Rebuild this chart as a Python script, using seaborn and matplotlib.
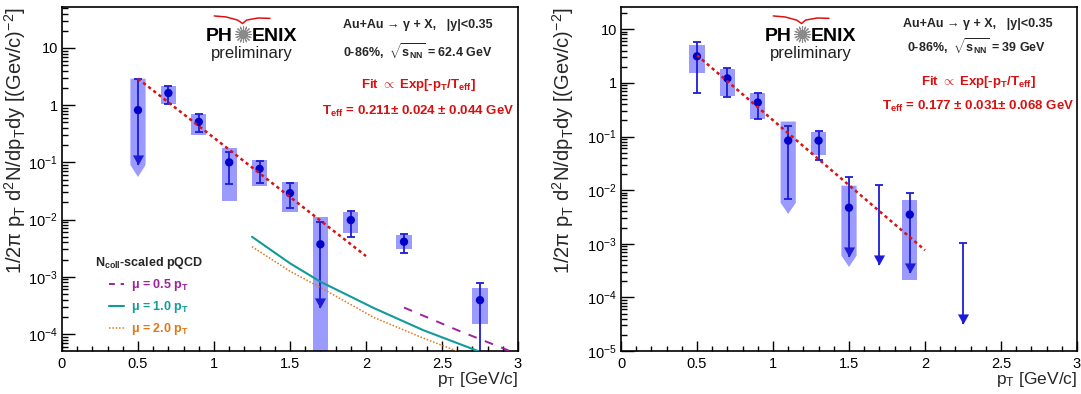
import numpy as np
import matplotlib
matplotlib.use("Agg")
import matplotlib.pyplot as plt
import seaborn as sns
from matplotlib.lines import Line2D
from matplotlib.ticker import FixedLocator, FuncFormatter, MultipleLocator, LogLocator, NullFormatter

nan = np.nan

# ---------------- 62.4 GeV (left) ----------------
pt62 = [0.5, 0.7, 0.9, 1.1, 1.3, 1.5, 1.7, 1.9, 2.25, 2.75]
y62 = [0.82, 1.63, 0.51, 0.10, 0.077, 0.029, 0.0037, 0.0098, 0.0041, 3.9e-4]
stat_hi62 = [2.87, 2.17, 0.70, 0.152, 0.106, 0.044, 0.0091, 0.014, 0.0056, 7.8e-4]
stat_lo62 = [0.09, 1.05, 0.34, 0.042, 0.044, 0.016, 2.8e-4, 0.005, 0.0026, 1e-6]
arrow62 = [True, False, False, False, False, False, True, False, False, False]
sys_hi62 = [2.9, 2.2, 0.70, 0.179, 0.110, 0.045, 0.011, 0.0136, 0.0054, 6.4e-4]
sys_lo62 = [0.090, 1.05, 0.30, 0.021, 0.0386, 0.0136, 1e-6, 0.0058, 0.0030, 1.5e-4]
sys_tip62 = [0.0556, nan, nan, nan, nan, nan, nan, nan, nan, nan]
fit62_x = [0.5, 2.0]
fit62_y = [2.9, 0.0023]
mu05_x = [2.25, 2.6, 2.95]
mu05_y = [2.9e-4, 1.17e-4, 5.0e-5]
mu10_x = [1.25, 1.5, 1.7, 2.05, 2.375, 2.74]
mu10_y = [5.0e-3, 1.72e-3, 8.2e-4, 2.85e-4, 1.17e-4, 5.0e-5]
mu20_x = [1.25, 1.5, 1.7, 2.05, 2.375, 2.6]
mu20_y = [3.36e-3, 1.25e-3, 6.5e-4, 1.95e-4, 8.5e-5, 5.0e-5]

# ---------------- 39 GeV (right) ----------------
pt39 = [0.5, 0.7, 0.9, 1.1, 1.3, 1.5, 1.7, 1.9, 2.25]
y39 = [3.13, 1.21, 0.43, 0.084, 0.084, 0.0047, nan, 0.0035, nan]
stat_hi39 = [5.7, 1.86, 0.66, 0.154, 0.124, 0.0179, 0.0126, 0.0089, 1.05e-3]
stat_lo39 = [0.64, 0.54, 0.21, 0.0069, 0.037, 5.7e-4, 4.1e-4, 2.9e-4, 3.2e-5]
arrow39 = [False, False, False, False, False, True, True, True, True]
sys_hi39 = [5.0, 1.79, 0.66, 0.19, 0.119, 0.0121, nan, 0.0066, nan]
sys_lo39 = [1.5, 0.58, 0.21, 0.0058, 0.046, 6.0e-4, nan, 2.1e-4, nan]
sys_tip39 = [nan, nan, nan, 0.0036, nan, 3.7e-4, nan, nan, nan]
fit39_x = [0.5, 2.0]
fit39_y = [3.27, 7.6e-4]

# ---------------- style ----------------
sns.set_style("white")
plt.rcParams["font.family"] = ["Liberation Sans", "DejaVu Sans"]
plt.rcParams["mathtext.fontset"] = "custom"
plt.rcParams["mathtext.rm"] = "Liberation Sans"
plt.rcParams["mathtext.it"] = "Liberation Sans:italic"
plt.rcParams["mathtext.bf"] = "Liberation Sans:bold"

PT_COL = "#0000c8"
ERR_COL = "#1c1cd8"
BOX_COL = "#9a9aff"
FIT_COL = "#dd1010"
TXT_RED = "#d81010"
C05 = "#a0209f"
C10 = "#109c98"
C20 = "#e07818"
HALF_W = 0.05
CAP = 0.026

tri_marker = [(-0.55, 1.0), (0.55, 1.0), (0.0, 0.0)]

fig = plt.figure(figsize=(10.81, 3.94), dpi=100)
axL = fig.add_axes([62 / 1081, 1 - 351 / 394, 456 / 1081, 344 / 394])
axR = fig.add_axes([621 / 1081, 1 - 351 / 394, 456 / 1081, 344 / 394])


def ytick_fmt(v, pos):
    e = int(round(np.log10(v)))
    if e == 1:
        return "10"
    if e == 0:
        return "1"
    return r"10$^{%d}$" % e


def draw_panel(ax, pt, y, shi, slo, arrow, syshi, syslo, systip, fitx, fity):
    # systematic boxes
    for x, hi, lo, tip in zip(pt, syshi, syslo, systip):
        if np.isnan(hi):
            continue
        if np.isnan(tip):
            ax.bar(x, hi - lo, bottom=lo, width=2 * HALF_W, color=BOX_COL,
                   edgecolor="none", zorder=1)
        else:
            ax.fill([x - HALF_W, x + HALF_W, x + HALF_W, x, x - HALF_W],
                    [hi, hi, lo, tip, lo], color=BOX_COL, lw=0, zorder=1)
    # statistical errors
    for x, hi, lo, arr in zip(pt, shi, slo, arrow):
        ax.vlines(x, lo, hi, color=ERR_COL, lw=1.3, zorder=2)
        ax.hlines(hi, x - CAP, x + CAP, color=ERR_COL, lw=1.3, zorder=2)
        if arr:
            ax.plot([x], [lo], marker=tri_marker, ms=14.5, color=ERR_COL,
                    mec="none", zorder=3)
        else:
            ax.hlines(lo, x - CAP, x + CAP, color=ERR_COL, lw=1.3, zorder=2)
    # points
    sns.scatterplot(x=pt, y=y, ax=ax, color=PT_COL, s=36, edgecolor="none",
                    zorder=4, legend=False)
    # fit
    sns.lineplot(x=fitx, y=fity, ax=ax, color=FIT_COL, lw=1.8,
                 linestyle=(0, (1.3, 1.3)), zorder=5, legend=False)


draw_panel(axL, pt62, y62, stat_hi62, stat_lo62, arrow62, sys_hi62, sys_lo62,
           sys_tip62, fit62_x, fit62_y)
draw_panel(axR, pt39, y39, stat_hi39, stat_lo39, arrow39, sys_hi39, sys_lo39,
           sys_tip39, fit39_x, fit39_y)

# pQCD curves (left)
sns.lineplot(x=mu05_x, y=mu05_y, ax=axL, color=C05, lw=1.4,
             linestyle=(0, (4.5, 4.5)), legend=False, zorder=3)
sns.lineplot(x=mu10_x, y=mu10_y, ax=axL, color=C10, lw=1.5, legend=False, zorder=3)
sns.lineplot(x=mu20_x, y=mu20_y, ax=axL, color=C20, lw=1.1,
             linestyle=(0, (1, 1.2)), legend=False, zorder=3)

handles = [Line2D([], [], color=C05, lw=1.4, linestyle=(0, (3, 3))),
           Line2D([], [], color=C10, lw=1.5),
           Line2D([], [], color=C20, lw=1.1, linestyle=(0, (1, 1.2)))]
labels = [r"μ = 0.5 p$_\mathbf{T}$", r"μ = 1.0 p$_\mathbf{T}$", r"μ = 2.0 p$_\mathbf{T}$"]
leg = axL.legend(handles, labels, title=r"N$_\mathbf{coll}$-scaled pQCD",
                 frameon=False, loc="upper center", bbox_to_anchor=(0.19, 0.28),
                 labelcolor="linecolor", prop={"weight": "bold", "size": 9},
                 handlelength=1.2, handletextpad=0.6, labelspacing=0.5,
                 borderpad=0, borderaxespad=0)
leg.get_title().set_fontweight("bold")
leg.get_title().set_fontsize(9)

# axes formatting
for ax, ylo, yhi, ydec, ylab_x in [(axL, 5.04e-5, 52, range(-4, 2), -0.074),
                                   (axR, 1e-5, 26, range(-5, 2), -0.099)]:
    ax.set_yscale("log")
    ax.set_xlim(0, 3)
    ax.set_ylim(ylo, yhi)
    ax.yaxis.set_major_locator(FixedLocator([10.0 ** e for e in ydec]))
    ax.yaxis.set_major_formatter(FuncFormatter(ytick_fmt))
    ax.yaxis.set_minor_locator(LogLocator(base=10, subs=np.arange(2, 10), numticks=20))
    ax.yaxis.set_minor_formatter(NullFormatter())
    ax.xaxis.set_major_locator(MultipleLocator(0.5))
    ax.xaxis.set_major_formatter(FuncFormatter(lambda v, p: "%g" % v))
    ax.xaxis.set_minor_locator(MultipleLocator(0.1))
    ax.tick_params(which="both", direction="in", top=False, right=False,
                   bottom=True, left=True, colors="black", labelsize=10.5)
    ax.tick_params(axis="x", which="major", length=7, width=1, pad=4)
    ax.tick_params(axis="x", which="minor", length=3.5, width=1)
    ax.tick_params(axis="y", which="major", length=9, width=1, pad=3)
    ax.tick_params(axis="y", which="minor", length=4.5, width=1)
    for s in ax.spines.values():
        s.set_color("black")
        s.set_linewidth(1.2)
    ax.set_xlabel(r"p$_\mathrm{T}$ [GeV/c]", fontsize=12.5, loc="right")
    ax.xaxis.set_label_coords(1.0, -0.055)
    ax.set_ylabel(r"1/2π p$_\mathrm{T}$ d$^\mathrm{2}$N/dp$_\mathrm{T}$dy [(Gev/c)$^\mathrm{-2}$]",
                  fontsize=14.5, loc="top")
    ax.yaxis.set_label_coords(ylab_x, 1.0)
    ax.grid(False)

    # PHENIX preliminary logo
    ax.text(0.375, 0.901, "PH", transform=ax.transAxes, ha="right", va="baseline",
            fontsize=14, fontweight="bold", color="black")
    ax.text(0.417, 0.901, "ENIX", transform=ax.transAxes, ha="left", va="baseline",
            fontsize=14, fontweight="bold", color="black")
    ax.plot([0.396], [0.921], transform=ax.transAxes, marker=(16, 2, 0), ms=12,
            mew=0.8, color="#8a8a8a", clip_on=False)
    ax.text(0.417, 0.853, "preliminary", transform=ax.transAxes, ha="center",
            va="baseline", fontsize=12, color="#222222")
    wx = [0.334, 0.36, 0.385, 0.396, 0.405, 0.43, 0.456]
    wy = [0.974, 0.971, 0.962, 0.952, 0.962, 0.968, 0.967]
    ax.plot(wx, wy, transform=ax.transAxes, color="#e01010", lw=1.1, clip_on=False)

# annotations left
axL.text(0.781, 0.948, "Au+Au → γ + X,   |y|<0.35", transform=axL.transAxes,
         ha="center", va="center", fontsize=9, fontweight="bold")
axL.text(0.781, 0.869, r"0-86%,  $\sqrt{\mathbf{s}_\mathbf{NN}}$ = 62.4 GeV",
         transform=axL.transAxes, ha="center", va="center", fontsize=9, fontweight="bold")
axL.text(0.781, 0.773, r"Fit $\propto$ Exp[-p$_\mathbf{T}$/T$_\mathbf{eff}$]",
         transform=axL.transAxes, ha="center", va="center", fontsize=9.5,
         fontweight="bold", color=TXT_RED)
axL.text(0.78, 0.695, r"T$_\mathbf{eff}$ = 0.211± 0.024 ± 0.044 GeV",
         transform=axL.transAxes, ha="center", va="center", fontsize=9.5,
         fontweight="bold", color=TXT_RED)

# annotations right
axR.text(0.783, 0.950, "Au+Au → γ + X,   |y|<0.35", transform=axR.transAxes,
         ha="center", va="center", fontsize=9, fontweight="bold")
axR.text(0.78, 0.884, r"0-86%,  $\sqrt{\mathbf{s}_\mathbf{NN}}$ = 39 GeV",
         transform=axR.transAxes, ha="center", va="center", fontsize=9, fontweight="bold")
axR.text(0.783, 0.782, r"Fit $\propto$ Exp[-p$_\mathbf{T}$/T$_\mathbf{eff}$]",
         transform=axR.transAxes, ha="center", va="center", fontsize=9.5,
         fontweight="bold", color=TXT_RED)
axR.text(0.783, 0.71, r"T$_\mathbf{eff}$ = 0.177 ± 0.031± 0.068 GeV",
         transform=axR.transAxes, ha="center", va="center", fontsize=9.5,
         fontweight="bold", color=TXT_RED)

fig.savefig("out.png", dpi=100)
